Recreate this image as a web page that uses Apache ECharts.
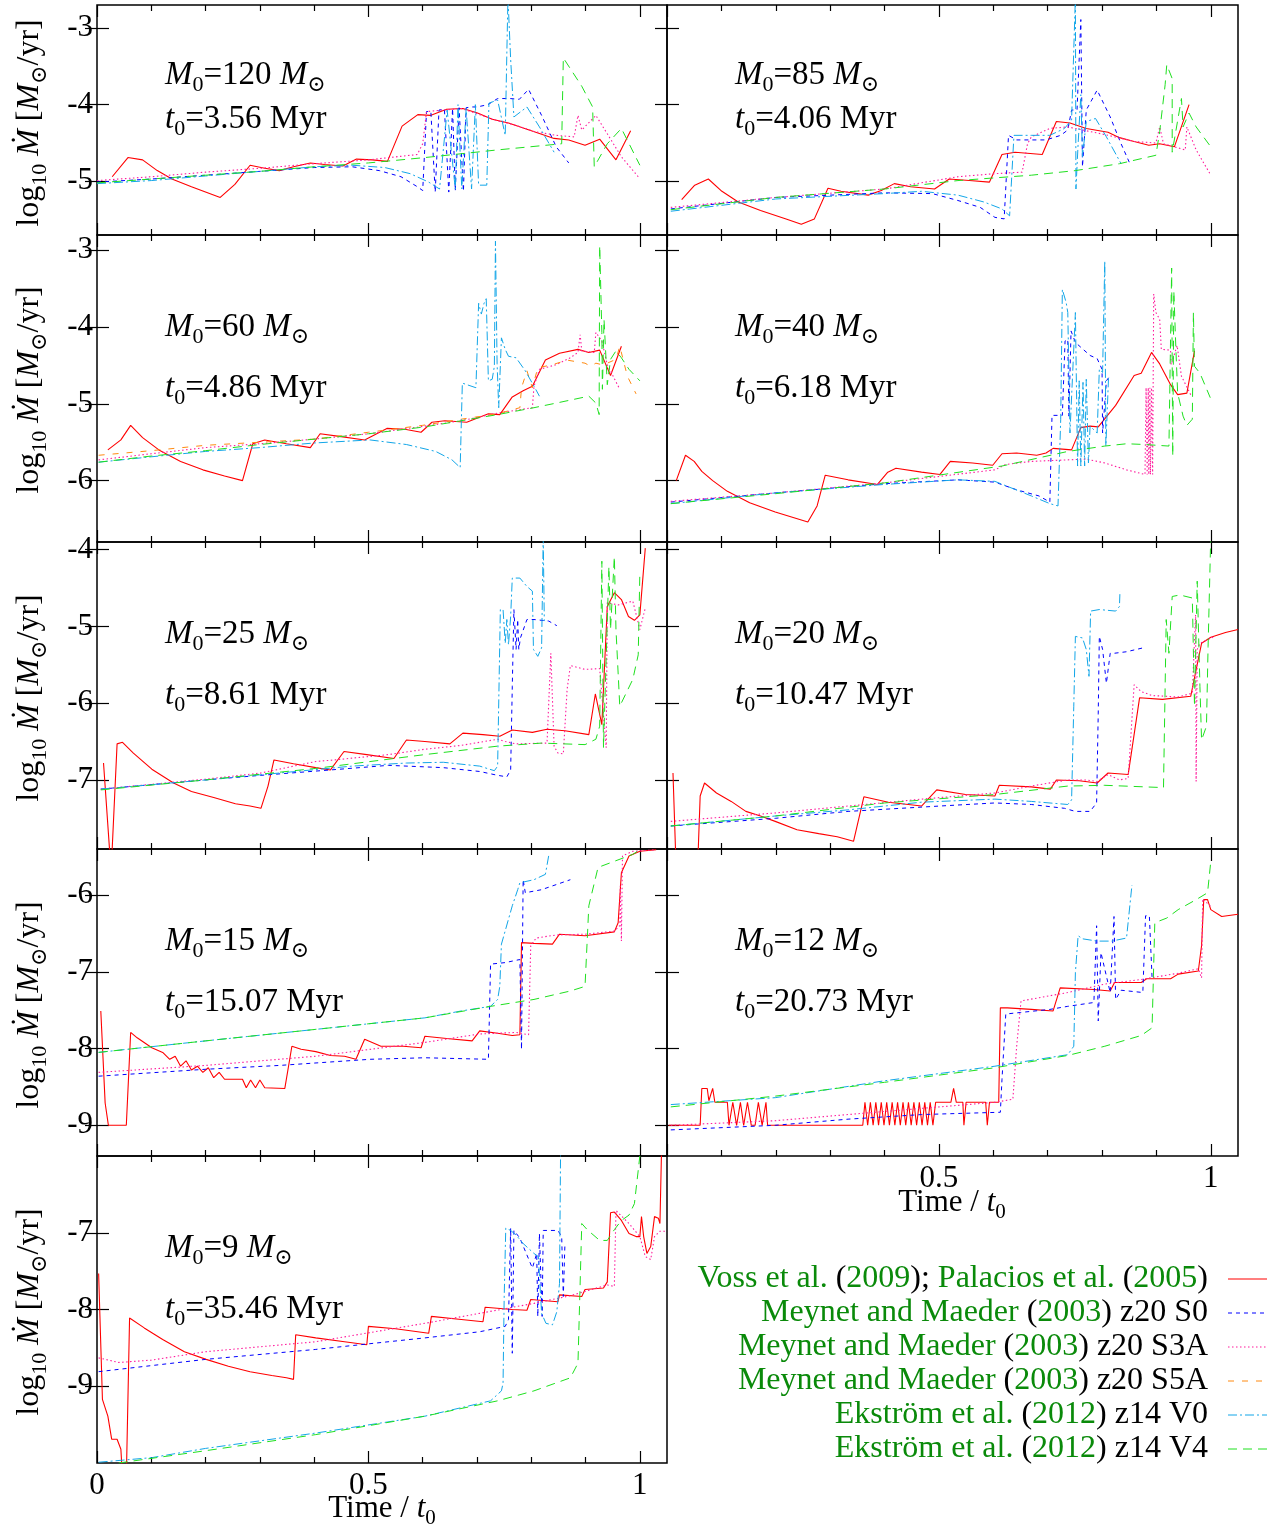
<!DOCTYPE html>
<html><head><meta charset="utf-8">
<script src="https://cdn.jsdelivr.net/npm/echarts@6/dist/echarts.min.js"></script>
<style>html,body{margin:0;padding:0;background:#fff}#c{width:1287px;height:1528px}</style>
</head><body><div id="c"></div>
<script>
// ---------------- DATA ----------------
const masses = ['120','85','60','40','25','20','15','12','9'];
const ages = ['3.56','4.06','4.86','6.18','8.61','10.47','15.07','20.73','35.46'];
const xMajorTicks = [0, 0.5, 1];
const xMinorTicks = [0.1,0.2,0.3,0.4,0.6,0.7,0.8,0.9];
const xTickLabelsLeft = [0, 0.5, 1];
const xTickLabelsRight = [0.5, 1];
const yRanges = [[-5.7,-2.7],[-6.8,-2.8],[-7.9,-3.9],[-9.4,-5.4],[-10,-6]];
const yTickValues = [[-5,-4,-3],[-6,-5,-4,-3],[-7,-6,-5,-4],[-9,-8,-7,-6],[-9,-8,-7]];
const yTickLabels = [[-5,-4,-3],[-6,-5,-4,-3],[-7,-6,-5,-4],[-9,-8,-7,-6],[-9,-8,-7]];
const modelNames = ['Voss','S0','S3A','S5A','V0','V4'];

// 120 Msun
const voss120 = [[0.028,-4.94],[0.057,-4.69],[0.084,-4.72],[0.111,-4.86],[0.138,-4.97],[0.174,-5.07],[0.227,-5.21],[0.254,-5.04],[0.282,-4.79],[0.309,-4.83],[0.336,-4.86],[0.362,-4.81],[0.393,-4.76],[0.419,-4.78],[0.453,-4.80],[0.478,-4.71],[0.507,-4.72],[0.535,-4.74],[0.562,-4.28],[0.591,-4.13],[0.614,-4.14],[0.644,-4.06],[0.674,-4.05],[0.701,-4.11],[0.728,-4.19],[0.758,-4.24],[0.792,-4.32],[0.842,-4.44],[0.869,-4.46],[0.899,-4.53],[0.926,-4.45],[0.956,-4.72],[0.983,-4.34]];
const s0_120 = [[0,-5.01],[0.1,-4.97],[0.2,-4.92],[0.3,-4.87],[0.4,-4.82],[0.47,-4.81],[0.52,-4.86],[0.56,-4.94],[0.59,-5.07],[0.6,-5.12],[0.607,-4.09],[0.615,-4.09],[0.623,-5.14],[0.63,-4.07],[0.64,-4.06],[0.648,-5.14],[0.655,-4.05],[0.66,-5.12],[0.667,-4.04],[0.675,-5.13],[0.68,-4.04],[0.69,-4.03],[0.7,-4.03],[0.72,-4.0],[0.738,-3.92],[0.76,-3.92],[0.778,-3.93],[0.795,-3.8],[0.819,-4.14],[0.846,-4.55],[0.869,-4.76]];
const s3a_120 = [[0,-4.99],[0.1,-4.94],[0.2,-4.88],[0.3,-4.83],[0.4,-4.77],[0.5,-4.72],[0.59,-4.65],[0.6,-4.51],[0.607,-4.09],[0.638,-4.07],[0.671,-4.05],[0.705,-4.13],[0.738,-4.21],[0.772,-4.27],[0.805,-4.35],[0.846,-4.40],[0.879,-4.42],[0.886,-4.14],[0.893,-4.33],[0.919,-4.14],[0.94,-4.38],[0.966,-4.68],[0.997,-4.94]];
const v0_120 = [[0,-5.03],[0.1,-4.99],[0.2,-4.93],[0.3,-4.87],[0.4,-4.81],[0.47,-4.79],[0.53,-4.82],[0.577,-4.90],[0.611,-5.01],[0.631,-5.10],[0.645,-4.07],[0.66,-5.1],[0.665,-4.0],[0.672,-5.1],[0.68,-4.05],[0.69,-5.1],[0.697,-4.0],[0.703,-5.05],[0.718,-5.05],[0.722,-3.98],[0.738,-3.94],[0.752,-4.4],[0.757,-2.6],[0.762,-3.41],[0.768,-4.16],[0.792,-4.03],[0.815,-4.29],[0.842,-4.62]];
const v4_120 = [[0,-5.02],[0.1,-4.97],[0.2,-4.92],[0.3,-4.87],[0.4,-4.81],[0.5,-4.76],[0.604,-4.69],[0.738,-4.59],[0.856,-4.51],[0.859,-3.39],[0.893,-3.76],[0.913,-4.03],[0.916,-4.81],[0.94,-4.51],[0.966,-4.31],[1.0,-4.79]];

// 85 Msun
const voss85 = [[0.027,-5.24],[0.051,-5.05],[0.076,-4.97],[0.101,-5.13],[0.131,-5.27],[0.172,-5.38],[0.219,-5.49],[0.247,-5.56],[0.271,-5.49],[0.296,-5.09],[0.32,-5.13],[0.37,-5.18],[0.394,-5.12],[0.418,-5.03],[0.448,-5.07],[0.492,-5.10],[0.519,-4.97],[0.556,-4.99],[0.593,-5.01],[0.616,-4.65],[0.64,-4.62],[0.69,-4.65],[0.716,-4.22],[0.741,-4.24],[0.771,-4.31],[0.811,-4.36],[0.832,-4.43],[0.859,-4.48],[0.886,-4.53],[0.906,-4.51],[0.933,-4.55],[0.96,-4.0]];
const s0_85 = [[0.007,-5.36],[0.2,-5.21],[0.4,-5.15],[0.488,-5.16],[0.535,-5.25],[0.576,-5.34],[0.603,-5.47],[0.62,-5.49],[0.628,-4.40],[0.643,-4.46],[0.67,-4.46],[0.697,-4.46],[0.724,-4.40],[0.737,-4.33],[0.744,-4.07],[0.754,-4.07],[0.761,-2.89],[0.764,-4.81],[0.771,-4.07],[0.781,-3.94],[0.791,-3.81],[0.815,-4.16],[0.835,-4.51],[0.85,-4.75]];
const s3a_85 = [[0.007,-5.34],[0.2,-5.21],[0.4,-5.10],[0.535,-4.94],[0.603,-4.90],[0.653,-4.88],[0.663,-4.51],[0.67,-4.42],[0.704,-4.31],[0.737,-4.29],[0.771,-4.34],[0.805,-4.39],[0.859,-4.48],[0.899,-4.50],[0.906,-4.29],[0.913,-4.51],[0.953,-4.59],[0.956,-4.29],[0.973,-4.59],[1.0,-4.92]];
const v0_85 = [[0.007,-5.39],[0.2,-5.23],[0.4,-5.16],[0.468,-5.13],[0.535,-5.18],[0.583,-5.27],[0.616,-5.36],[0.63,-5.45],[0.638,-4.40],[0.67,-4.40],[0.704,-4.40],[0.731,-4.31],[0.744,-4.20],[0.751,-2.6],[0.752,-5.10],[0.756,-4.51],[0.761,-3.87],[0.764,-4.68],[0.771,-4.22],[0.788,-4.18],[0.808,-4.42],[0.835,-4.77]];
const v4_85 = [[0.007,-5.37],[0.2,-5.21],[0.4,-5.10],[0.535,-4.99],[0.67,-4.92],[0.751,-4.86],[0.832,-4.77],[0.899,-4.66],[0.906,-4.35],[0.916,-3.74],[0.919,-3.48],[0.929,-3.66],[0.929,-4.62],[0.946,-3.92],[0.949,-4.29],[0.96,-4.11],[0.973,-4.29],[1.0,-4.55]];

// 60 Msun
const voss60 = [[0.02,-5.60],[0.044,-5.47],[0.062,-5.28],[0.084,-5.44],[0.114,-5.60],[0.154,-5.75],[0.195,-5.86],[0.235,-5.94],[0.268,-6.0],[0.287,-5.52],[0.309,-5.47],[0.349,-5.52],[0.393,-5.57],[0.411,-5.39],[0.443,-5.42],[0.493,-5.47],[0.534,-5.32],[0.567,-5.33],[0.597,-5.37],[0.617,-5.24],[0.641,-5.22],[0.681,-5.24],[0.721,-5.13],[0.742,-5.14],[0.765,-4.91],[0.785,-4.83],[0.802,-4.77],[0.826,-4.43],[0.852,-4.34],[0.886,-4.29],[0.906,-4.33],[0.926,-4.30],[0.946,-4.63],[0.966,-4.25]];
const s3a_60 = [[0.003,-5.73],[0.1,-5.65],[0.2,-5.57],[0.3,-5.52],[0.4,-5.46],[0.5,-5.39],[0.604,-5.29],[0.671,-5.22],[0.738,-5.12],[0.802,-5.05],[0.805,-4.77],[0.815,-4.55],[0.846,-4.49],[0.872,-4.40],[0.886,-4.33],[0.89,-4.10],[0.893,-4.31],[0.916,-4.33],[0.919,-4.07],[0.93,-4.18],[0.94,-4.49],[0.963,-4.81]];
const s5a_60 = [[0.003,-5.67],[0.1,-5.61],[0.2,-5.54],[0.3,-5.50],[0.4,-5.46],[0.5,-5.37],[0.6,-5.28],[0.671,-5.20],[0.738,-5.13],[0.779,-5.05],[0.782,-4.79],[0.792,-4.57],[0.802,-4.79],[0.812,-4.53],[0.839,-4.49],[0.866,-4.43],[0.899,-4.47],[0.909,-4.51],[0.919,-4.47],[0.93,-4.49],[0.94,-4.47],[0.956,-4.42],[0.963,-4.25],[0.977,-4.64],[0.993,-4.87]];
const v0_60 = [[0.003,-5.76],[0.1,-5.69],[0.2,-5.62],[0.3,-5.57],[0.4,-5.51],[0.503,-5.47],[0.57,-5.53],[0.624,-5.62],[0.654,-5.73],[0.669,-5.83],[0.673,-4.73],[0.698,-4.79],[0.703,-3.69],[0.708,-3.83],[0.713,-3.69],[0.717,-3.63],[0.721,-4.70],[0.728,-4.68],[0.732,-4.51],[0.734,-2.88],[0.737,-4.47],[0.74,-5.05],[0.745,-4.14],[0.752,-4.29],[0.758,-4.38],[0.772,-4.40],[0.789,-4.57],[0.805,-4.77],[0.815,-4.90]];
const v4_60 = [[0.003,-5.76],[0.1,-5.68],[0.2,-5.61],[0.3,-5.53],[0.4,-5.46],[0.5,-5.39],[0.604,-5.30],[0.738,-5.14],[0.805,-5.05],[0.846,-4.99],[0.906,-4.90],[0.919,-4.99],[0.925,-5.14],[0.926,-2.94],[0.93,-4.07],[0.931,-4.81],[0.934,-3.90],[0.94,-4.75],[0.946,-4.42],[0.956,-4.31],[0.966,-4.40],[0.98,-4.55],[1.0,-4.70]];

// 40 Msun
const voss40 = [[0.017,-6.0],[0.034,-5.67],[0.05,-5.75],[0.064,-5.88],[0.084,-6.0],[0.111,-6.14],[0.152,-6.29],[0.199,-6.41],[0.259,-6.54],[0.276,-6.33],[0.291,-5.93],[0.333,-5.99],[0.387,-6.05],[0.406,-5.89],[0.421,-5.84],[0.468,-5.89],[0.502,-5.92],[0.521,-5.75],[0.562,-5.77],[0.599,-5.80],[0.616,-5.65],[0.643,-5.64],[0.68,-5.67],[0.697,-5.64],[0.71,-5.58],[0.744,-5.60],[0.761,-5.31],[0.778,-5.29],[0.793,-5.30],[0.825,-5.02],[0.859,-4.63],[0.872,-4.60],[0.891,-4.33],[0.906,-4.48],[0.926,-4.75],[0.939,-4.88],[0.956,-4.86],[0.97,-4.31]];
const s0_40 = [[0.007,-6.28],[0.2,-6.16],[0.4,-6.04],[0.535,-5.99],[0.603,-6.02],[0.643,-6.12],[0.684,-6.20],[0.704,-6.28],[0.708,-5.15],[0.727,-5.15],[0.732,-4.18],[0.737,-4.16],[0.739,-5.16],[0.743,-4.05],[0.751,-4.20],[0.778,-4.37],[0.791,-4.41],[0.8,-4.55],[0.801,-5.38],[0.808,-4.70],[0.812,-4.66]];
const s3a_40 = [[0.007,-6.27],[0.2,-6.16],[0.4,-6.03],[0.603,-5.86],[0.623,-5.79],[0.67,-5.75],[0.737,-5.73],[0.771,-5.72],[0.805,-5.77],[0.845,-5.86],[0.879,-5.92],[0.881,-4.79],[0.883,-5.92],[0.885,-4.79],[0.886,-5.92],[0.888,-4.79],[0.889,-5.92],[0.891,-4.79],[0.893,-5.92],[0.895,-3.57],[0.899,-3.81],[0.906,-3.90],[0.909,-4.29],[0.926,-4.30],[0.927,-4.49],[0.938,-4.24],[0.946,-4.64],[0.963,-4.88]];
const v0_40 = [[0.007,-6.30],[0.2,-6.16],[0.4,-6.05],[0.535,-5.99],[0.603,-6.01],[0.67,-6.20],[0.704,-6.30],[0.719,-6.33],[0.724,-5.20],[0.727,-3.51],[0.734,-3.68],[0.737,-3.81],[0.741,-5.38],[0.751,-3.81],[0.755,-5.81],[0.758,-4.70],[0.761,-5.81],[0.765,-4.72],[0.768,-5.81],[0.771,-4.68],[0.775,-5.77],[0.778,-5.29],[0.791,-5.38],[0.795,-4.55],[0.801,-4.59],[0.805,-3.14],[0.807,-5.55],[0.812,-4.64]];
const v4_40 = [[0.007,-6.30],[0.2,-6.17],[0.4,-6.03],[0.616,-5.81],[0.737,-5.62],[0.805,-5.55],[0.845,-5.52],[0.879,-5.53],[0.923,-5.55],[0.928,-3.23],[0.93,-5.68],[0.932,-3.53],[0.936,-4.33],[0.939,-4.86],[0.949,-5.16],[0.956,-5.28],[0.966,-5.20],[0.968,-3.81],[0.97,-4.51],[0.98,-4.60],[0.999,-4.92]];

// 25 Msun
const voss25 = [[0.012,-6.78],[0.026,-8.2],[0.037,-6.53],[0.047,-6.51],[0.067,-6.65],[0.101,-6.86],[0.141,-7.04],[0.174,-7.15],[0.215,-7.23],[0.255,-7.31],[0.282,-7.34],[0.302,-7.37],[0.315,-7.08],[0.326,-6.74],[0.362,-6.79],[0.403,-6.84],[0.43,-6.87],[0.455,-6.63],[0.497,-6.67],[0.547,-6.72],[0.57,-6.48],[0.604,-6.50],[0.65,-6.53],[0.674,-6.39],[0.711,-6.41],[0.742,-6.43],[0.765,-6.35],[0.802,-6.38],[0.829,-6.34],[0.862,-6.36],[0.906,-6.41],[0.918,-5.88],[0.93,-6.28],[0.94,-4.74],[0.953,-4.56],[0.966,-4.65],[0.979,-4.87],[0.99,-4.92],[1.0,-4.85],[1.01,-3.98]];
const s0_25 = [[0.007,-7.12],[0.2,-7.0],[0.302,-6.94],[0.43,-6.87],[0.537,-6.81],[0.638,-6.84],[0.705,-6.89],[0.738,-6.94],[0.755,-6.96],[0.762,-6.87],[0.765,-5.78],[0.768,-4.78],[0.772,-5.30],[0.775,-4.91],[0.777,-5.30],[0.78,-5.15],[0.782,-5.17],[0.792,-4.91],[0.805,-4.91],[0.832,-4.93],[0.847,-4.99]];
const s3a_25 = [[0.007,-7.12],[0.2,-6.99],[0.302,-6.91],[0.403,-6.76],[0.436,-6.74],[0.537,-6.67],[0.604,-6.60],[0.671,-6.55],[0.738,-6.47],[0.752,-6.50],[0.772,-6.53],[0.829,-6.52],[0.836,-5.35],[0.842,-6.56],[0.849,-6.65],[0.859,-6.66],[0.866,-5.82],[0.872,-5.51],[0.899,-5.56],[0.926,-5.55],[0.938,-6.58],[0.94,-4.69],[0.96,-4.72],[0.987,-4.67],[1.0,-5.04],[1.01,-4.76]];
const v0_25 = [[0.007,-7.12],[0.2,-7.0],[0.336,-6.91],[0.47,-6.82],[0.57,-6.78],[0.638,-6.77],[0.705,-6.82],[0.732,-6.88],[0.738,-6.82],[0.743,-4.78],[0.748,-4.78],[0.752,-5.22],[0.755,-4.91],[0.758,-5.24],[0.762,-4.87],[0.765,-4.37],[0.779,-4.37],[0.792,-4.48],[0.802,-4.54],[0.804,-5.30],[0.812,-5.39],[0.819,-5.28],[0.822,-3.85],[0.824,-4.93]];
const v4_25 = [[0.007,-7.13],[0.2,-7.0],[0.403,-6.85],[0.604,-6.67],[0.738,-6.56],[0.819,-6.52],[0.899,-6.54],[0.919,-6.47],[0.926,-6.30],[0.93,-4.15],[0.933,-6.58],[0.943,-4.22],[0.946,-5.04],[0.953,-4.09],[0.956,-5.04],[0.963,-6.04],[0.987,-5.69],[0.997,-5.37],[1.0,-4.30]];

// 20 Msun
const voss20 = [[0.011,-6.91],[0.017,-8.2],[0.056,-8.2],[0.061,-7.21],[0.069,-7.04],[0.091,-7.17],[0.118,-7.28],[0.145,-7.41],[0.172,-7.47],[0.199,-7.54],[0.239,-7.65],[0.279,-7.70],[0.313,-7.74],[0.343,-7.80],[0.362,-7.22],[0.407,-7.29],[0.468,-7.34],[0.496,-7.13],[0.549,-7.19],[0.603,-7.21],[0.611,-7.07],[0.67,-7.09],[0.705,-7.12],[0.716,-7.0],[0.758,-7.01],[0.791,-7.04],[0.811,-6.91],[0.848,-6.93],[0.869,-5.93],[0.911,-5.95],[0.963,-5.91],[0.983,-5.22],[1.0,-5.14],[1.027,-5.08],[1.05,-5.04]];
const s0_20 = [[0.007,-7.60],[0.199,-7.50],[0.333,-7.41],[0.502,-7.34],[0.603,-7.30],[0.67,-7.32],[0.731,-7.37],[0.751,-7.41],[0.778,-7.41],[0.79,-7.30],[0.793,-6.13],[0.795,-5.13],[0.801,-5.30],[0.808,-5.74],[0.815,-5.35],[0.822,-5.35],[0.845,-5.33],[0.875,-5.28]];
const s3a_20 = [[0.007,-7.54],[0.199,-7.43],[0.333,-7.34],[0.468,-7.25],[0.603,-7.17],[0.67,-7.08],[0.737,-7.0],[0.771,-7.0],[0.791,-7.02],[0.811,-6.93],[0.832,-7.0],[0.848,-6.98],[0.859,-5.76],[0.872,-5.85],[0.892,-5.90],[0.939,-5.92],[0.966,-5.87],[0.972,-4.85],[0.973,-7.02],[0.975,-5.30],[0.98,-5.22],[1.007,-5.13]];
const v0_20 = [[0.007,-7.60],[0.199,-7.47],[0.333,-7.39],[0.468,-7.29],[0.603,-7.25],[0.67,-7.28],[0.737,-7.32],[0.744,-7.26],[0.748,-6.04],[0.751,-5.13],[0.764,-5.15],[0.771,-5.30],[0.776,-5.65],[0.779,-4.80],[0.795,-4.78],[0.825,-4.80],[0.832,-4.74],[0.833,-4.54]];
const v4_20 = [[0.007,-7.60],[0.199,-7.47],[0.4,-7.30],[0.603,-7.19],[0.737,-7.08],[0.805,-7.07],[0.913,-7.10],[0.916,-7.08],[0.918,-4.91],[0.923,-5.35],[0.929,-4.61],[0.943,-4.59],[0.966,-4.63],[0.97,-6.04],[0.975,-4.41],[0.98,-5.78],[0.983,-6.48],[0.992,-6.30],[0.995,-5.26],[1.0,-3.8]];

// 15 Msun
const voss15 = [[0.007,-7.51],[0.015,-8.71],[0.021,-9.0],[0.054,-9.0],[0.062,-7.79],[0.074,-7.86],[0.101,-7.99],[0.121,-8.05],[0.134,-8.14],[0.144,-8.10],[0.154,-8.23],[0.164,-8.16],[0.174,-8.28],[0.185,-8.23],[0.195,-8.31],[0.205,-8.25],[0.215,-8.38],[0.225,-8.31],[0.235,-8.40],[0.268,-8.40],[0.275,-8.51],[0.283,-8.41],[0.292,-8.51],[0.3,-8.41],[0.309,-8.51],[0.346,-8.52],[0.359,-7.97],[0.376,-8.01],[0.403,-8.04],[0.43,-8.09],[0.456,-8.10],[0.477,-8.14],[0.493,-7.88],[0.523,-7.97],[0.564,-7.97],[0.597,-7.99],[0.604,-7.84],[0.644,-7.87],[0.691,-7.90],[0.705,-7.77],[0.738,-7.80],[0.765,-7.83],[0.779,-7.82],[0.782,-6.62],[0.805,-6.63],[0.839,-6.64],[0.852,-6.51],[0.899,-6.53],[0.953,-6.48],[0.96,-6.36],[0.966,-5.71],[0.98,-5.49],[1.0,-5.43],[1.03,-5.41]];
const s0_15 = [[0.003,-8.36],[0.2,-8.27],[0.336,-8.22],[0.503,-8.14],[0.604,-8.12],[0.721,-8.14],[0.725,-6.90],[0.752,-6.88],[0.779,-6.84],[0.782,-8.01],[0.785,-5.80],[0.789,-5.97],[0.792,-5.99],[0.819,-5.93],[0.872,-5.80]];
const s3a_15 = [[0.003,-8.31],[0.2,-8.22],[0.403,-8.10],[0.604,-7.92],[0.705,-7.81],[0.772,-7.79],[0.795,-7.82],[0.799,-6.66],[0.809,-6.56],[0.846,-6.52],[0.899,-6.51],[0.953,-6.47],[0.963,-6.40],[0.964,-5.88],[0.966,-6.60],[0.968,-5.49],[0.987,-5.43],[1.03,-5.41]];
const v0_15 = [[0.003,-8.05],[0.2,-7.90],[0.403,-7.75],[0.604,-7.60],[0.671,-7.51],[0.725,-7.45],[0.738,-7.36],[0.742,-7.19],[0.745,-6.64],[0.765,-6.14],[0.775,-5.93],[0.779,-5.84],[0.805,-5.80],[0.826,-5.73],[0.832,-5.49]];
const v4_15 = [[0.003,-8.05],[0.2,-7.90],[0.403,-7.75],[0.604,-7.60],[0.725,-7.45],[0.805,-7.36],[0.872,-7.25],[0.899,-7.19],[0.906,-6.14],[0.923,-5.64],[0.953,-5.56],[0.987,-5.47],[1.0,-5.41]];

// 12 Msun
const voss12 = [[0.003,-9.0],[0.061,-9.0],[0.064,-8.52],[0.074,-8.52],[0.077,-8.68],[0.084,-8.52],[0.088,-8.70],[0.111,-8.70],[0.114,-9.0],[0.121,-8.70],[0.128,-9.0],[0.135,-8.70],[0.141,-9.0],[0.148,-8.70],[0.155,-9.0],[0.162,-9.0],[0.168,-8.70],[0.175,-9.0],[0.182,-8.70],[0.185,-9.0],[0.36,-9.0],[0.364,-8.70],[0.369,-9.0],[0.374,-8.70],[0.379,-9.0],[0.384,-8.70],[0.389,-9.0],[0.394,-8.70],[0.399,-9.0],[0.404,-8.70],[0.409,-9.0],[0.414,-8.70],[0.419,-9.0],[0.424,-8.70],[0.429,-9.0],[0.434,-8.70],[0.439,-9.0],[0.444,-8.70],[0.449,-9.0],[0.454,-8.70],[0.459,-9.0],[0.464,-8.70],[0.469,-9.0],[0.474,-8.70],[0.479,-9.0],[0.484,-8.70],[0.489,-9.0],[0.494,-8.70],[0.522,-8.70],[0.527,-8.52],[0.532,-8.70],[0.544,-8.70],[0.546,-9.0],[0.55,-8.70],[0.586,-8.70],[0.589,-9.0],[0.593,-8.70],[0.61,-8.70],[0.613,-7.47],[0.626,-7.47],[0.67,-7.49],[0.71,-7.51],[0.723,-7.21],[0.785,-7.23],[0.815,-7.25],[0.823,-7.14],[0.872,-7.14],[0.882,-7.09],[0.926,-7.09],[0.94,-7.03],[0.977,-6.99],[0.983,-6.66],[0.987,-6.06],[0.994,-6.06],[1.0,-6.19],[1.02,-6.28],[1.05,-6.25]];
const s0_12 = [[0.007,-9.06],[0.199,-9.0],[0.333,-8.92],[0.468,-8.86],[0.613,-8.83],[0.616,-8.40],[0.623,-7.55],[0.65,-7.53],[0.704,-7.49],[0.737,-7.45],[0.785,-7.40],[0.79,-6.40],[0.793,-7.64],[0.798,-6.75],[0.815,-7.27],[0.822,-6.28],[0.825,-7.36],[0.835,-7.24],[0.875,-7.27],[0.88,-6.27],[0.887,-6.27],[0.892,-7.08]];
const s3a_12 = [[0.007,-9.0],[0.199,-8.94],[0.333,-8.86],[0.468,-8.78],[0.603,-8.70],[0.636,-8.66],[0.643,-7.97],[0.651,-7.38],[0.737,-7.27],[0.805,-7.16],[0.872,-7.10],[0.939,-7.02],[0.977,-6.96],[0.983,-7.08],[0.985,-6.05],[1.0,-6.15]];
const v0_12 = [[0.007,-8.73],[0.199,-8.64],[0.4,-8.42],[0.603,-8.23],[0.737,-8.08],[0.748,-7.97],[0.751,-7.01],[0.756,-6.53],[0.764,-6.57],[0.791,-6.60],[0.818,-6.60],[0.845,-6.56],[0.855,-5.87]];
const v4_12 = [[0.007,-8.76],[0.199,-8.62],[0.4,-8.44],[0.603,-8.25],[0.737,-8.09],[0.805,-7.97],[0.872,-7.83],[0.892,-7.73],[0.897,-6.36],[0.919,-6.30],[0.94,-6.19],[0.973,-6.06],[0.994,-5.97],[1.0,-5.56]];

// 9 Msun
const voss9 = [[0.003,-7.53],[0.01,-9.17],[0.02,-9.39],[0.027,-9.69],[0.037,-9.69],[0.044,-9.82],[0.047,-10.2],[0.054,-10.2],[0.06,-8.11],[0.087,-8.24],[0.121,-8.39],[0.161,-8.55],[0.201,-8.65],[0.242,-8.74],[0.282,-8.81],[0.322,-8.86],[0.349,-8.89],[0.362,-8.91],[0.366,-8.33],[0.403,-8.37],[0.456,-8.42],[0.497,-8.46],[0.5,-8.22],[0.55,-8.25],[0.611,-8.31],[0.616,-8.09],[0.671,-8.13],[0.711,-8.16],[0.715,-7.97],[0.765,-8.0],[0.792,-8.01],[0.799,-7.87],[0.849,-7.90],[0.852,-7.81],[0.893,-7.83],[0.899,-7.74],[0.933,-7.72],[0.94,-7.64],[0.943,-7.64],[0.946,-6.74],[0.953,-6.73],[0.966,-6.84],[0.98,-7.01],[0.993,-7.05],[1.0,-7.05],[1.003,-6.79],[1.007,-7.05],[1.013,-7.27],[1.02,-7.18],[1.027,-6.79],[1.034,-6.81],[1.037,-6.88],[1.04,-5.9]];
const s0_9 = [[0.003,-8.81],[0.2,-8.65],[0.403,-8.52],[0.604,-8.37],[0.705,-8.29],[0.752,-8.22],[0.758,-8.13],[0.762,-6.94],[0.765,-8.57],[0.768,-6.97],[0.779,-7.07],[0.802,-7.46],[0.81,-7.27],[0.812,-8.09],[0.815,-7.01],[0.82,-8.09],[0.822,-6.97],[0.849,-6.97],[0.856,-7.05],[0.859,-7.83],[0.862,-7.14]];
const s3a_9 = [[0.003,-8.63],[0.04,-8.69],[0.1,-8.66],[0.2,-8.55],[0.403,-8.42],[0.604,-8.18],[0.705,-8.05],[0.805,-7.92],[0.872,-7.82],[0.94,-7.68],[0.953,-7.70],[0.956,-6.71],[0.98,-6.88],[1.0,-7.05],[1.01,-7.31],[1.02,-7.35],[1.027,-7.05],[1.037,-6.98],[1.047,-6.98]];
const v0_9 = [[0.003,-9.99],[0.101,-9.93],[0.2,-9.81],[0.403,-9.61],[0.604,-9.39],[0.725,-9.19],[0.745,-9.06],[0.748,-8.96],[0.75,-7.87],[0.753,-6.94],[0.762,-6.97],[0.772,-7.03],[0.785,-7.14],[0.805,-7.27],[0.813,-7.31],[0.819,-8.05],[0.827,-8.18],[0.839,-8.20],[0.847,-8.03],[0.852,-7.66],[0.854,-5.9]];
const v4_9 = [[0.04,-10.0],[0.2,-9.84],[0.403,-9.63],[0.604,-9.39],[0.738,-9.19],[0.805,-9.06],[0.872,-8.89],[0.886,-8.70],[0.893,-6.88],[0.903,-6.96],[0.926,-7.10],[0.94,-7.10],[0.953,-6.96],[0.966,-6.84],[0.98,-6.77],[0.99,-6.62],[1.0,-6.0]];

// per-panel table built from the arrays above (order: Voss, S0, S3A, S5A, V0, V4)
const panelData = [
  [voss120, s0_120, s3a_120, null, v0_120, v4_120],
  [voss85, s0_85, s3a_85, null, v0_85, v4_85],
  [voss60, null, s3a_60, s5a_60, v0_60, v4_60],
  [voss40, s0_40, s3a_40, null, v0_40, v4_40],
  [voss25, s0_25, s3a_25, null, v0_25, v4_25],
  [voss20, s0_20, s3a_20, null, v0_20, v4_20],
  [voss15, s0_15, s3a_15, null, v0_15, v4_15],
  [voss12, s0_12, s3a_12, null, v0_12, v4_12],
  [voss9, s0_9, s3a_9, null, v0_9, v4_9]
];

// ---------------- STYLE / LAYOUT ----------------
const FONT = "'Liberation Serif', 'DejaVu Serif', serif";
const lineStyles = [
  {color:'#ff0000', type:'solid', width:1.1},
  {color:'#0000ff', type:[4,4], width:1},
  {color:'#ff1a9c', type:[1.5,2.5], width:1.1},
  {color:'#ff8a10', type:[6,8], width:1},
  {color:'#12a6e8', type:[9,3,2,3], width:1},
  {color:'#1fe01f', type:[9,6], width:1}
];
const colLeft = [97, 667], colWidth = [570, 571];
const rowTop = [5, 235, 542, 849, 1156], rowHeight = [230, 307, 307, 307, 307];

function richSet(size, color) {
  return {
    n: {fontFamily: FONT, fontSize: size, fill: color},
    i: {fontFamily: FONT, fontSize: size, fontStyle: 'italic', fill: color},
    s: {fontFamily: FONT, fontSize: Math.round(size*0.68), fill: color, padding: [Math.round(size*0.62),0,0,0]},
    g: {fontFamily: FONT, fontSize: size, fill: '#0a8a0a'},
    k: {fontFamily: FONT, fontSize: size, fill: '#000'}
  };
}

const grids = [], xAxes = [], yAxes = [], series = [], graphics = [];
const tickStyle = {color:'#000', width:1.2};
for (let p = 0; p < 9; p++) {
  const row = Math.floor(p/2), col = p % 2;
  grids.push({left: colLeft[col], top: rowTop[row], width: colWidth[col], height: rowHeight[row],
    show: true, borderColor: '#000', borderWidth: 1.5, backgroundColor: 'transparent'});
  const showX = (p === 8 || p === 7);
  const baseX = {type:'value', gridIndex:p, min:0, max:1.05, splitLine:{show:false}, axisLine:{show:false}};
  xAxes.push(Object.assign({}, baseX, {position:'bottom',
    axisTick:{show:true, inside:true, length:12, customValues:xMajorTicks, lineStyle:tickStyle},
    axisLabel:{show:showX, customValues: (p === 7 ? xTickLabelsRight : xTickLabelsLeft), fontFamily:FONT, fontSize:31, color:'#000', margin:7}}));
  xAxes.push(Object.assign({}, baseX, {position:'bottom',
    axisTick:{show:true, inside:true, length:6, customValues:xMinorTicks, lineStyle:tickStyle}, axisLabel:{show:false}}));
  xAxes.push(Object.assign({}, baseX, {position:'top',
    axisTick:{show:true, inside:true, length:12, customValues:xMajorTicks, lineStyle:tickStyle}, axisLabel:{show:false}}));
  xAxes.push(Object.assign({}, baseX, {position:'top',
    axisTick:{show:true, inside:true, length:6, customValues:xMinorTicks, lineStyle:tickStyle}, axisLabel:{show:false}}));
  const baseY = {type:'value', gridIndex:p, min:yRanges[row][0], max:yRanges[row][1], splitLine:{show:false}, axisLine:{show:false}};
  yAxes.push(Object.assign({}, baseY, {position:'left',
    axisTick:{show:true, inside:true, length:12, customValues:yTickValues[row], lineStyle:tickStyle},
    axisLabel:{show: col === 0, customValues:yTickLabels[row], fontFamily:FONT, fontSize:31, color:'#000', margin:4}}));
  yAxes.push(Object.assign({}, baseY, {position:'right',
    axisTick:{show:true, inside:true, length:12, customValues:yTickValues[row], lineStyle:tickStyle}, axisLabel:{show:false}}));

  panelData[p].forEach((d, m) => {
    if (!d) return;
    series.push({type:'line', name: modelNames[m], xAxisIndex: 4*p, yAxisIndex: 2*p, data: d,
      showSymbol:false, symbol:'none', silent:true, clip:true, z: 2+m,
      lineStyle:{color: lineStyles[m].color, width: lineStyles[m].width, type: lineStyles[m].type, cap:'butt'}});
  });

  // panel labels
  const off1 = row === 0 ? 70 : 92, off2 = row === 0 ? 114 : 153;
  graphics.push({type:'text', x: colLeft[col] + 68, y: rowTop[row] + off1, z: 50,
    style:{text:'{i|M}{s|0}{n|=' + masses[p] + ' }{i|M}{s|\u2299}', rich: richSet(33,'#000'), align:'left', verticalAlign:'middle'}});
  graphics.push({type:'text', x: colLeft[col] + 68, y: rowTop[row] + off2, z: 50,
    style:{text:'{i|t}{s|0}{n|=' + ages[p] + ' Myr}', rich: richSet(33,'#000'), align:'left', verticalAlign:'middle'}});
}

// y-axis titles
const yTitleY = [123, 390, 698, 1005, 1312];
yTitleY.forEach(yc => {
  graphics.push({type:'text', x: 30, y: yc, rotation: Math.PI/2, z: 50,
    style:{text:'{n|log}{s|10}{n| }{i|\u1E40}{n| [}{i|M}{s|\u2299}{n|/yr]}', rich: richSet(32,'#000'), align:'center', verticalAlign:'middle'}});
});
// x-axis titles
[[382, 1509], [952, 1203]].forEach(([xc, yc]) => {
  graphics.push({type:'text', x: xc, y: yc, z: 50,
    style:{text:'{n|Time / }{i|t}{s|0}', rich: richSet(31,'#000'), align:'center', verticalAlign:'middle'}});
});

// legend
const legendTexts = [
  '{g|Voss et al. }{k|(}{g|2009}{k|); }{g|Palacios et al. }{k|(}{g|2005}{k|)}',
  '{g|Meynet and Maeder }{k|(}{g|2003}{k|) z20 S0}',
  '{g|Meynet and Maeder }{k|(}{g|2003}{k|) z20 S3A}',
  '{g|Meynet and Maeder }{k|(}{g|2003}{k|) z20 S5A}',
  '{g|Ekstr\u00f6m et al. }{k|(}{g|2012}{k|) z14 V0}',
  '{g|Ekstr\u00f6m et al. }{k|(}{g|2012}{k|) z14 V4}'
];
legendTexts.forEach((t, i) => {
  const yc = 1279 + 34*i;
  graphics.push({type:'text', x: 1208, y: yc, z: 50,
    style:{text: t, rich: richSet(32,'#000'), align:'right', verticalAlign:'middle'}});
  const ls = lineStyles[i];
  graphics.push({type:'line', z: 50, shape:{x1:1228, y1:yc, x2:1267, y2:yc},
    style:{stroke: ls.color, lineWidth: ls.width, lineDash: ls.type === 'solid' ? null : ls.type}});
});

const chart = echarts.init(document.getElementById('c'), null, {renderer:'canvas'});
chart.setOption({
  animation:false,
  backgroundColor:'#fff',
  grid: grids, xAxis: xAxes, yAxis: yAxes, series: series, graphic: graphics
});
</script></body></html>
